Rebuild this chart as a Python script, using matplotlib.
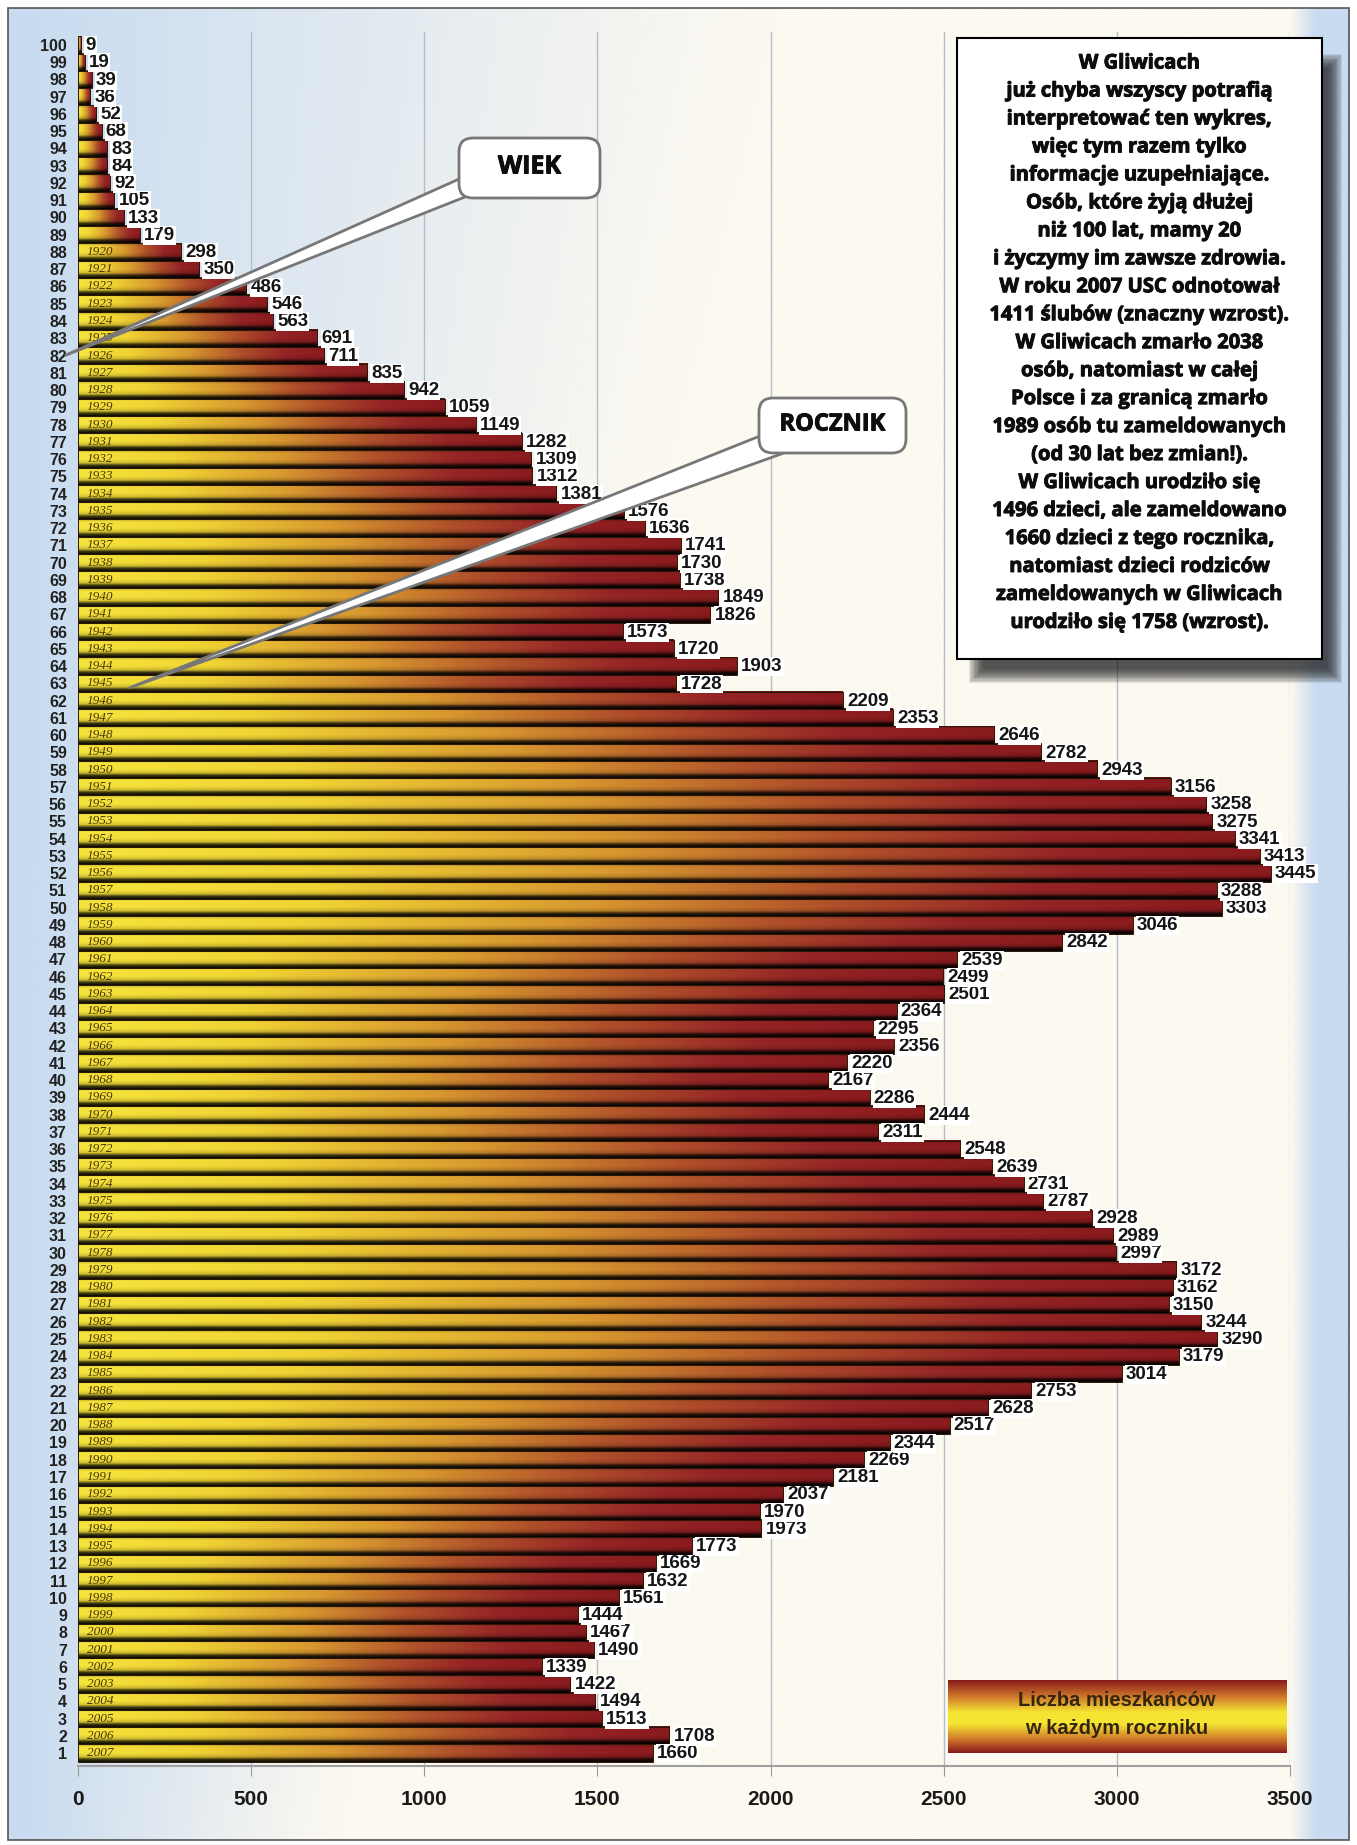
import numpy as np
import matplotlib
matplotlib.use("Agg")
import matplotlib.pyplot as plt
import matplotlib.patheffects as pe
from matplotlib.colors import LinearSegmentedColormap, to_rgb
from matplotlib.patches import Rectangle, FancyBboxPatch, Polygon

# ---------------- data ----------------
ages = list(range(1, 101))
values = [1660, 1708, 1513, 1494, 1422, 1339, 1490, 1467, 1444, 1561,   # ages 1-10
          1632, 1669, 1773, 1973, 1970, 2037, 2181, 2269, 2344, 2517,   # 11-20
          2628, 2753, 3014, 3179, 3290, 3244, 3150, 3162, 3172, 2997,   # 21-30
          2989, 2928, 2787, 2731, 2639, 2548, 2311, 2444, 2286, 2167,   # 31-40
          2220, 2356, 2295, 2364, 2501, 2499, 2539, 2842, 3046, 3303,   # 41-50
          3288, 3445, 3413, 3341, 3275, 3258, 3156, 2943, 2782, 2646,   # 51-60
          2353, 2209, 1728, 1903, 1720, 1573, 1826, 1849, 1738, 1730,   # 61-70
          1741, 1636, 1576, 1381, 1312, 1309, 1282, 1149, 1059, 942,    # 71-80
          835, 711, 691, 563, 546, 486, 350, 298, 179, 133,             # 81-90
          105, 92, 84, 83, 68, 52, 36, 39, 19, 9]                       # 91-100
birth_years = list(range(2007, 1919, -1))   # labels for ages 1..88
x_ticks = [0, 500, 1000, 1500, 2000, 2500, 3000, 3500]

info_lines = [
    "W Gliwicach",
    "już chyba wszyscy potrafią",
    "interpretować ten wykres,",
    "więc tym razem tylko",
    "informacje uzupełniające.",
    "Osób, które żyją dłużej",
    "niż 100 lat, mamy 20",
    "i życzymy im zawsze zdrowia.",
    "W roku 2007 USC odnotował",
    "1411 ślubów (znaczny wzrost).",
    "W Gliwicach zmarło 2038",
    "osób, natomiast w całej",
    "Polsce i za granicą zmarło",
    "1989 osób tu zameldowanych",
    "(od 30 lat bez zmian!).",
    "W Gliwicach urodziło się",
    "1496 dzieci, ale zameldowano",
    "1660 dzieci z tego rocznika,",
    "natomiast dzieci rodziców",
    "zameldowanych w Gliwicach",
    "urodziło się 1758 (wzrost).",
]
legend_lines = ["Liczba mieszkańców", "w każdym roczniku"]

# ---------------- figure ----------------
W, H = 1357, 1845
fig = plt.figure(figsize=(W / 100, H / 100), dpi=100)
fig.patch.set_facecolor("white")

# background gradient (decoration)
bg = fig.add_axes([0, 0, 1, 1], zorder=0)
bg.set_xlim(0, W); bg.set_ylim(H, 0); bg.axis("off")
ny, nx = 300, 400
yy, xx = np.mgrid[0:ny, 0:nx]
X = 8 + (1349 - 8) * xx / (nx - 1)
Y = 8 + (1840 - 8) * yy / (ny - 1)
reach = 760 - 440 * (Y - 8) / 1832
wl = np.clip(1 - (X - 20) / reach, 0, 1) ** 1.1
wr = np.clip((X - 1292) / 25, 0, 1)
w = np.maximum(wl, wr)
cream = np.array(to_rgb("#FCF9F0"))
blue = np.array(to_rgb("#C8DBF0"))
bgimg = cream * (1 - w[..., None]) + blue * w[..., None]
bg.imshow(bgimg, extent=(8, 1349, 1840, 8), interpolation="bilinear", aspect="auto")
bg.add_patch(Rectangle((8, 8), 1341, 1832, fill=False, ec="#555555", lw=1.2))
bg.set_xlim(0, W); bg.set_ylim(H, 0)

# main axes
ax = fig.add_axes([78 / W, (H - 1766) / H, 1212 / W, (1766 - 32) / H], zorder=2)
ax.patch.set_alpha(0)

for v in x_ticks[1:]:
    ax.axvline(v, color="#B3BDC8", lw=1, zorder=0.5)

cmap = LinearSegmentedColormap.from_list(
    "bar", [(0.0, "#F6E43C"), (0.2, "#F0D434"), (0.45, "#D8982F"),
            (0.66, "#B0502A"), (0.84, "#952426"), (1.0, "#8A1B1E")])
grad = cmap(np.linspace(0, 1, 160))[:, :3]
t = np.linspace(0, 1, 28)
shade = np.interp(t, [0, 0.14, 0.28, 0.5, 0.85, 0.95, 1.0],
                  [0.06, 0.25, 0.85, 1.0, 1.0, 0.85, 0.6])
bar_img = np.clip(shade[:, None, None] * grad[None, :, :], 0, 1)

for a, v in zip(ages, values):
    ax.imshow(bar_img, extent=(0, v, a - 0.5, a + 0.5), origin="lower",
              aspect="auto", interpolation="bilinear", zorder=2)
    ax.add_patch(Rectangle((0, a - 0.5), v, 1, fill=False, ec="#2a1806",
                           lw=0.7, zorder=3))

for a, v in zip(ages, values):
    ax.annotate(str(v), (v, a), xytext=(3, -0.5), textcoords="offset points",
                va="center", ha="left", fontsize=13.5, fontweight="bold",
                family="Liberation Sans", color="#151515", zorder=6,
                annotation_clip=False,
                bbox=dict(boxstyle="square,pad=0.05", fc="white", ec="none"))

for a, yr in zip(ages[:88], birth_years):
    ax.text(25, a, str(yr), fontsize=9.5, style="italic", family="Liberation Serif",
            color="#4a3608", va="center", ha="left", zorder=4)

ax.set_xlim(0, 3500)
ax.set_ylim(0.25, 100.75)
ax.set_yticks(ages)
ax.set_yticklabels([str(a) for a in ages], fontsize=11.5, fontweight="bold",
                   family="Liberation Sans", color="#222222")
ax.tick_params(axis="y", length=0, pad=8)
ax.set_xticks(x_ticks)
ax.set_xticklabels([str(v) for v in x_ticks], fontsize=15, fontweight="bold",
                   family="Liberation Sans", color="#1a1a1a")
ax.tick_params(axis="x", length=7, color="#999999", pad=10)
for s in ["top", "right", "left"]:
    ax.spines[s].set_visible(False)
ax.spines["bottom"].set_color("#A0A0A0")
ax.spines["bottom"].set_linewidth(1.5)

# overlay
ov = fig.add_axes([0, 0, 1, 1], zorder=5)
ov.patch.set_visible(False)
ov.axis("off")

heavy = [pe.withStroke(linewidth=0.7, foreground="#0d0d0d")]

# info box with shadow
bx, by, bw, bh = 957, 38, 365, 621
for k in range(12):
    s = k * 1.3
    ov.add_patch(Rectangle((bx + 26 - s, by + 30 - s), bw - 20 + 2 * s, bh - 20 + 2 * s,
                           fc="#1a1a1a", ec="none", alpha=0.1))
ov.add_patch(Rectangle((bx, by), bw, bh, fc="white", ec="black", lw=1.5))
for i, line in enumerate(info_lines):
    ov.text(bx + bw / 2, 63.5 + i * 27.97, line, ha="center", va="center",
            fontsize=14.5, fontweight="bold", family="Open Sans", color="#0d0d0d",
            path_effects=heavy)

# callouts
ov.add_patch(Polygon([(477, 171), (486.6, 188.4), (65, 355.5)], closed=True,
                     fc="white", ec="#777777", lw=2))
ov.add_patch(FancyBboxPatch((459, 138), 141, 60,
                            boxstyle="round,pad=0,rounding_size=14",
                            fc="white", ec="#777777", lw=2))
ov.text(529.5, 167, "WIEK", ha="center", va="center", fontsize=18,
        fontweight="bold", family="Open Sans", color="#0d0d0d", path_effects=heavy)

ov.add_patch(Polygon([(780, 428), (795, 449), (129, 688)], closed=True,
                     fc="white", ec="#777777", lw=2))
ov.add_patch(FancyBboxPatch((759, 398), 147, 55,
                            boxstyle="round,pad=0,rounding_size=14",
                            fc="white", ec="#777777", lw=2))
ov.text(832.5, 424.5, "ROCZNIK", ha="center", va="center", fontsize=17,
        fontweight="bold", family="Open Sans", color="#0d0d0d", path_effects=heavy)

# legend box
lcmap = LinearSegmentedColormap.from_list(
    "leg", [(0.0, "#8A1C1C"), (0.22, "#CF762A"), (0.44, "#F5E533"),
            (0.6, "#F5E533"), (0.82, "#CF762A"), (1.0, "#8A1C1C")])
leg = lcmap(np.linspace(0, 1, 60))[:, :3]
leg_img = np.repeat(leg[:, None, :], 10, axis=1)
ov.imshow(leg_img, extent=(948, 1287, 1753, 1680), aspect="auto",
          interpolation="bilinear", zorder=3)
ov.text(1117, 1700, legend_lines[0], ha="center", va="center", fontsize=14.5,
        fontweight="bold", family="Liberation Sans", color="#33250f", zorder=4)
ov.text(1117, 1728, legend_lines[1], ha="center", va="center", fontsize=14.5,
        fontweight="bold", family="Liberation Sans", color="#33250f", zorder=4)

ov.set_xlim(0, W); ov.set_ylim(H, 0)

fig.savefig("out.png", dpi=100)
